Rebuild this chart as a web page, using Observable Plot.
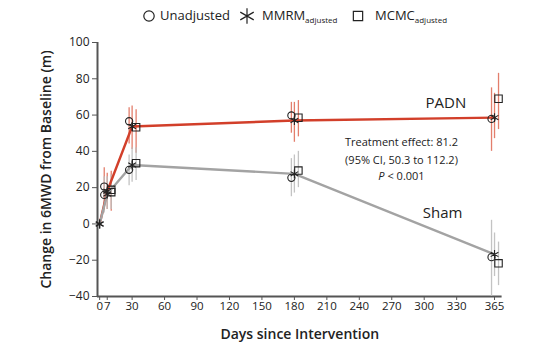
<!DOCTYPE html>
<html>
<head>
<meta charset="utf-8">
<script src="https://cdn.jsdelivr.net/npm/d3@7"></script>
<script src="https://cdn.jsdelivr.net/npm/@observablehq/plot@0.6"></script>
<style>
  body { margin: 0; background: #fff; font-family: "Open Sans", "Noto Sans", sans-serif; }
  #legend { position: relative; height: 30px; font-size: 13px; color: #222; font-weight: 500; }
  #legend .icon { position: absolute; top: 8px; }
  #legend .lab { position: absolute; top: 6px; white-space: nowrap; line-height: 18px; }
  #legend sub { font-size: 8px; vertical-align: -3px; }
</style>
</head>
<body>
<div id="legend"></div>
<div id="chart"></div>
<script>
// ---- data ----
const days = [0, 7, 30, 180, 365];
const groups = ["PADN", "Sham"];
const methods = ["Unadjusted", "MMRM", "MCMC"];

// PADN
const padnUnadj   = [null, 20.6, 56.6, 59.8, 57.9];
const padnUnadjLo = [null, 10, 44, 50, 40];
const padnUnadjHi = [null, 31, 64, 67, 75];
const padnMmrm    = [0, 18, 53.7, 57, 58.6];
const padnMmrmLo  = [null, 8, 41, 45, 47];
const padnMmrmHi  = [null, 28, 65, 67, 72];
const padnMcmc    = [null, 18.8, 53.3, 58.5, 69];
const padnMcmcLo  = [null, 7, 39, 48, 52];
const padnMcmcHi  = [null, 29, 63, 68, 83];

// Sham
const shamUnadj   = [null, 16, 29.8, 25.4, -18.3];
const shamUnadjLo = [null, 6, 21, 15, -40];
const shamUnadjHi = [null, 26, 38, 36, 2];
const shamMmrm    = [0, 16.5, 32.5, 27.6, -16.8];
const shamMmrmLo  = [null, 8, 23, 17, -29];
const shamMmrmHi  = [null, 26, 42, 38, -5];
const shamMcmc    = [null, 17.5, 33.5, 29.4, -21.7];
const shamMcmcLo  = [null, 8, 24, 20, -34];
const shamMcmcHi  = [null, 27, 42, 40, -10];

const xTicks = [0, 7, 30, 60, 90, 120, 150, 180, 210, 240, 270, 300, 330, 365];
const yTicks = [-40, -20, 0, 20, 40, 60, 80, 100];

// annotations
const annoText  = ["PADN", "Sham", "Treatment effect: 81.2", "(95% CI, 50.3 to 112.2)", "P < 0.001"];
const annoDay   = [320, 317, 279, 279, 279];
const annoValue = [66.4, 5.7, 44.7, 35.2, 26.4];
const annoSize  = [15, 15, 11, 11, 11];

// legend
const legendLabels = ["Unadjusted", "MMRM", "MCMC"];
const legendSubs = ["", "adjusted", "adjusted"];

// ---- build table ----
const series = {
  PADN: { Unadjusted: [padnUnadj, padnUnadjLo, padnUnadjHi], MMRM: [padnMmrm, padnMmrmLo, padnMmrmHi], MCMC: [padnMcmc, padnMcmcLo, padnMcmcHi] },
  Sham: { Unadjusted: [shamUnadj, shamUnadjLo, shamUnadjHi], MMRM: [shamMmrm, shamMmrmLo, shamMmrmHi], MCMC: [shamMcmc, shamMcmcLo, shamMcmcHi] }
};
const rows = [];
for (const g of groups) for (const m of methods) {
  const [v, lo, hi] = series[g][m];
  days.forEach((d, i) => { if (v[i] != null) rows.push({group: g, method: m, day: d, value: v[i], lo: lo[i], hi: hi[i]}); });
}
const annos = annoText.map((t, i) => ({text: t, day: annoDay[i], value: annoValue[i], size: annoSize[i]}));

const lineColor = {PADN: "#d23f2a", Sham: "#a3a3a3"};
const ciColor = {PADN: "#e0705c", Sham: "#bcbcbc"};
const offs = {Unadjusted: -3, MMRM: 0, MCMC: 4};
const symbols = {Unadjusted: "circle", MMRM: "asterisk", MCMC: "square"};
const rSize = {Unadjusted: 3.6, MMRM: 4.2, MCMC: 4.2};

const marks = [];
// axis lines
marks.push(Plot.ruleX([-2], {y1: -40.5, y2: 100, stroke: "#555", strokeWidth: 2}));
marks.push(Plot.ruleY([-40], {x1: -2, x2: 372, stroke: "#555", strokeWidth: 2}));
// CIs
for (const m of methods) {
  marks.push(Plot.ruleX(rows.filter(r => r.method === m && r.lo != null), {
    x: "day", y1: "lo", y2: "hi", dx: offs[m],
    stroke: d => ciColor[d.group], strokeWidth: 1.3, strokeOpacity: 0.9
  }));
}
// lines through MMRM estimates
marks.push(Plot.line(rows.filter(r => r.method === "MMRM"), {
  x: "day", y: "value", z: "group", stroke: d => lineColor[d.group], strokeWidth: 2.4
}));
// markers
for (const m of methods) {
  marks.push(Plot.dot(rows.filter(r => r.method === m), {
    x: "day", y: "value", dx: offs[m], symbol: () => symbols[m], r: rSize[m],
    stroke: "#222", strokeWidth: 1.1, fill: "none"
  }));
}
// annotations
marks.push(Plot.text(annos, {
  x: "day", y: "value", text: "text", fontSize: d => d.size, fill: "#222", textAnchor: "middle"
}));
// axes
marks.push(Plot.axisX({ticks: xTicks, tickSize: 4, tickPadding: 1.5, fontSize: 11.5, stroke: "#555",
  label: "Days since Intervention", labelAnchor: "center", labelOffset: 42, labelArrow: "none"}));
marks.push(Plot.axisY({ticks: yTicks, tickSize: 5, tickPadding: 3, fontSize: 12, stroke: "#555",
  label: "Change in 6MWD from Baseline (m)", labelAnchor: "center", labelOffset: 56, labelArrow: "none"}));

const plot = Plot.plot({
  width: 543, height: 312,
  marginTop: 12, marginBottom: 46, marginLeft: 97, marginRight: 41.4,
  x: {domain: [-2, 372]},
  y: {domain: [-40, 100]},
  style: {fontFamily: "'Open Sans', 'Noto Sans', sans-serif", color: "#222", background: "white", overflow: "visible"},
  marks
});
document.getElementById("chart").appendChild(plot);

// italic P and font weights of annotation
d3.select(plot).selectAll("text").each(function() {
  const t = d3.select(this);
  if (t.text() === "P < 0.001") { t.text(null); t.append("tspan").attr("font-style", "italic").text("P"); t.append("tspan").text(" < 0.001"); }
  if (t.text() === "PADN" || t.text() === "Sham") t.attr("font-weight", 500);
});
d3.select(plot).selectAll("g[aria-label='x-axis label'] text, g[aria-label='y-axis label'] text")
  .attr("font-size", 14).attr("font-weight", 600);

// ---- legend ----
const legend = d3.select("#legend");
const iconCenters = [149, 247, 358];
const textStarts = [160, 262, 375];
const symFns = [d3.symbolCircle, d3.symbolAsterisk, d3.symbolSquare2];
const symSizes = [85, 170, 110];
legendLabels.forEach((lab, i) => {
  const s = legend.append("svg").attr("class", "icon").attr("width", 16).attr("height", 16)
    .style("left", (iconCenters[i] - 8) + "px");
  s.append("path").attr("transform", "translate(8,8)").attr("d", d3.symbol(symFns[i], symSizes[i])())
    .attr("fill", "none").attr("stroke", "#222").attr("stroke-width", 1.2);
  const span = legend.append("span").attr("class", "lab").style("left", textStarts[i] + "px").text(lab);
  if (legendSubs[i]) span.append("sub").text(legendSubs[i]);
});
</script>
</body>
</html>
